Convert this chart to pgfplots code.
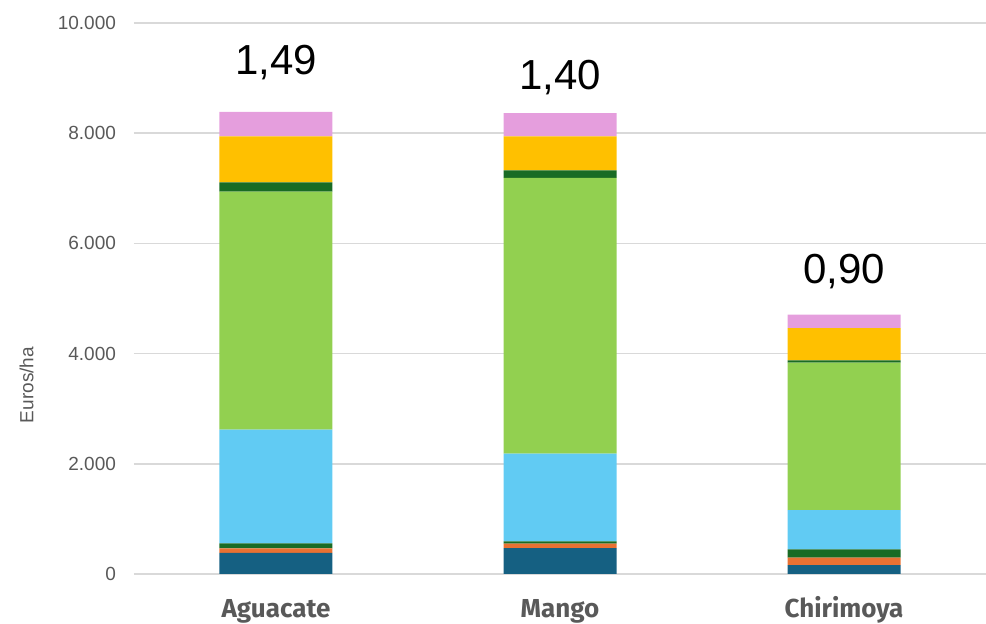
\documentclass[border=0pt]{standalone}
\usepackage{fontspec}
\usepackage{pgfplots}
\pgfplotsset{compat=1.18}
\setmainfont{Liberation Sans}
\newfontfamily\labfont{Fira Sans}

\definecolor{cBlue}{HTML}{156082}
\definecolor{cOrange}{HTML}{E97132}
\definecolor{cDkGreen}{HTML}{196B24}
\definecolor{cLtBlue}{HTML}{61CBF3}
\definecolor{cGreen}{HTML}{92D050}
\definecolor{cYellow}{HTML}{FFC000}
\definecolor{cPink}{HTML}{E59EDD}
\definecolor{cGrid}{HTML}{D9D9D9}
\definecolor{cTick}{HTML}{595959}

\begin{document}
\begin{tikzpicture}
\begin{axis}[
  at={(0,0)}, anchor=south west,
  scale only axis,
  width=426pt, height=275.5pt,
  ybar stacked,
  bar width=56.5pt,
  xmin=-0.5, xmax=2.5,
  ymin=0, ymax=10000,
  ytick={0,2000,...,10000},
  scaled y ticks=false,
  xtick=data,
  xticklabels={Aguacate,Mango,Chirimoya},
  axis line style={draw=none},
  major tick length=0pt,
  ymajorgrids,
  grid style={cGrid, line width=0.8pt},
  /pgf/number format/.cd, fixed, 1000 sep={.}, assume math mode=true,
  /pgfplots/.cd,
  yticklabel style={font=\fontsize{9.5}{11}\selectfont, text=cTick, xshift=-5.5pt},
  xticklabel style={font=\labfont\bfseries\fontsize{13}{15}\selectfont, text=cTick, anchor=base, yshift=-22pt},
  ylabel={Euros/ha},
  ylabel style={font=\fontsize{9.5}{11}\selectfont, text=cTick, at={(axis description cs:-0.126,0.343)}, anchor=center},
  every axis plot/.append style={draw=none},
  clip=false,
]
\addplot[fill=cBlue]    coordinates {(0,381) (1,471) (2,163)};
\addplot[fill=cOrange]  coordinates {(0,85) (1,80) (2,132)};
\addplot[fill=cDkGreen] coordinates {(0,91) (1,42) (2,150)};
\addplot[fill=cLtBlue]  coordinates {(0,2061) (1,1590) (2,714)};
\addplot[fill=cGreen]   coordinates {(0,4321) (1,5004) (2,2676)};
\addplot[fill=cDkGreen] coordinates {(0,168) (1,138) (2,44)};
\addplot[fill=cYellow]  coordinates {(0,834) (1,616) (2,585)};
\addplot[fill=cPink]    coordinates {(0,448) (1,424) (2,241)};
\node[font=\fontsize{21}{24}\selectfont] at (axis cs:0,9277) {1,49};
\node[font=\fontsize{21}{24}\selectfont] at (axis cs:1,9005) {1,40};
\node[font=\fontsize{21}{24}\selectfont] at (axis cs:2,5488) {0,90};
\end{axis}
\pgfresetboundingbox
\path[use as bounding box] (-67pt,-25pt) rectangle (426pt,287pt);
\end{tikzpicture}
\end{document}
